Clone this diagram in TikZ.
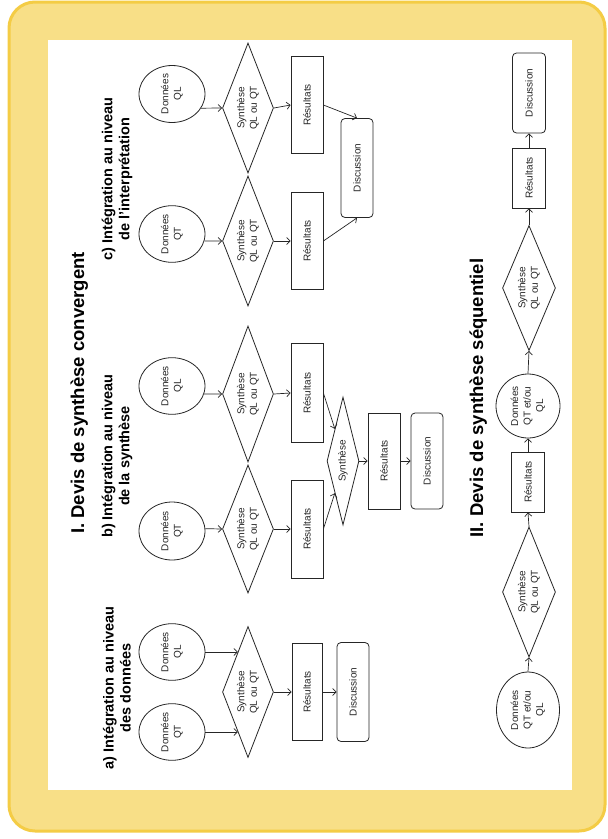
\documentclass[tikz,border=0pt]{standalone}
\usepackage{fontspec}
\setmainfont{Liberation Sans}
\usetikzlibrary{shapes.geometric,arrows.meta,calc}
\definecolor{frameY}{HTML}{F8DF87}
\definecolor{frameB}{HTML}{F4CC45}
\definecolor{ink}{HTML}{262626}
\begin{document}
\begin{tikzpicture}[x=1pt,y=-1pt,
  lbl/.style={font=\fontsize{10}{12.5}\selectfont, text=ink, align=center},
  dat/.style={lbl, ellipse, draw=ink, line width=0.8pt, rotate=90, inner sep=0pt},
  syn/.style={lbl, diamond, draw=ink, line width=0.8pt, rotate=90, inner sep=0pt, aspect=2.5},
  res/.style={lbl, rectangle, draw=ink, line width=0.8pt, rotate=90, inner sep=0pt},
  disc/.style={lbl, rectangle, rounded corners=4pt, draw=ink, line width=0.8pt, rotate=90, inner sep=0pt},
  ttl/.style={font=\fontsize{18.5}{22}\selectfont\bfseries, text=black, rotate=90, anchor=base, inner sep=0pt},
  sub/.style={font=\fontsize{14.5}{17}\selectfont\bfseries, text=black, rotate=90, align=center, inner sep=0pt},
  arr/.style={draw=ink, line width=0.7pt, -{Straight Barb[length=3.5pt,width=7pt]}}
]
\useasboundingbox (0,0) rectangle (608,839);
\fill[white] (0,0) rectangle (608,839);
\draw[fill=frameY, draw=frameB, line width=3pt, rounded corners=26pt] (9,2) rectangle (605,831);
\fill[white] (48,40) rectangle (572,790);

% titles
\node[ttl] (t1) at (84,393) {I. Devis de synthèse convergent};
\node[ttl] (t2) at (483,398) {II. Devis de synthèse séquentiel};
\node[sub] (ta) at (117,688) {a) Intégration au niveau\\des données};
\node[sub] (tb) at (117,456) {b) Intégration au niveau\\de la synthèse};
\node[sub] (tc) at (117,179) {c) Intégration au niveau\\de l'interprétation};

% a) data level
\node[dat, minimum width=56pt, minimum height=66pt] (aQT) at (172,732) {Données\\QT};
\node[dat, minimum width=56pt, minimum height=66pt] (aQL) at (172,652) {Données\\QL};
\node[syn, minimum width=131pt, minimum height=51pt] (aD) at (248,692) {Synthèse\\QL ou QT};
\node[res, minimum width=97pt, minimum height=30pt] (aR) at (307,692) {Résultats};
\node[disc, minimum width=99pt, minimum height=32pt] (aDisc) at (353,692) {Discussion};
\coordinate (aIn1) at ($(aD.north)!0.61!(aD.west)$);
\coordinate (aIn2) at ($(aD.north)!0.61!(aD.east)$);
\draw[arr] (aQT.south) -- (aQT.south -| aIn1);
\draw[arr] (aQL.south) -- (aQL.south -| aIn2);
\draw[arr] (aD.south) -- (aR.north);
\draw[arr] (aR.south) -- (aDisc.north);

% b) synthesis level
\node[dat, minimum width=56pt, minimum height=66pt] (bQL) at (172,386) {Données\\QL};
\node[dat, minimum width=58pt, minimum height=66pt] (bQT) at (172,531) {Données\\QT};
\node[syn, minimum width=136pt, minimum height=51pt] (bD1) at (248,394) {Synthèse\\QL ou QT};
\node[syn, minimum width=128pt, minimum height=51pt] (bD2) at (248,529) {Synthèse\\QL ou QT};
\node[res, minimum width=99pt, minimum height=32pt] (bR1) at (307,393) {Résultats};
\node[res, minimum width=98pt, minimum height=32pt] (bR2) at (307,529) {Résultats};
\node[syn, aspect=4, minimum width=128pt, minimum height=32pt] (bS) at (343,461) {Synthèse};
\node[res, minimum width=96pt, minimum height=32pt] (bR3) at (384,461) {Résultats};
\node[disc, minimum width=96pt, minimum height=32pt] (bDisc) at (427,461) {Discussion};
\draw[arr] (bQL.-104) -- (bD1.north);
\draw[arr] (bQT.-86) -- (bD2.north);
\draw[arr] (bD1.south) -- (bR1.north);
\draw[arr] (bD2.south) -- (bR2.north);
\draw[arr] (bR1.south) -- (bS.north east);
\draw[arr] (bR2.south) -- (bS.north west);
\draw[arr] (bS.south) -- (bR3.north);
\draw[arr] (bR3.south) -- (bDisc.north);

% c) interpretation level
\node[dat, minimum width=57pt, minimum height=66pt] (cQL) at (172,94) {Données\\QL};
\node[dat, minimum width=56pt, minimum height=66pt] (cQT) at (172,234) {Données\\QT};
\node[syn, minimum width=130pt, minimum height=51pt] (cD1) at (248,108) {Synthèse\\QL ou QT};
\node[syn, minimum width=130pt, minimum height=51pt] (cD2) at (248,241) {Synthèse\\QL ou QT};
\node[res, minimum width=97pt, minimum height=32pt] (cR1) at (307,105) {Résultats};
\node[res, minimum width=97pt, minimum height=32pt] (cR2) at (307,241) {Résultats};
\node[disc, minimum width=99pt, minimum height=32pt] (cDisc) at (357,168) {Discussion};
\draw[arr] (cQL.-116) -- (cD1.north);
\draw[arr] (cQT.-102) -- (cD2.north);
\draw[arr] (cD1.south) -- (cR1.north);
\draw[arr] (cD2.south) -- (cR2.north);
\draw[arr] (cR1.south) -- (cDisc.east);
\draw[arr] (cR2.south) -- (cDisc.west);

% II sequential
\node[dat, minimum width=76pt, minimum height=63pt] (s1) at (528,710) {Données\\QT et/ou\\QL};
\node[syn, minimum width=130pt, minimum height=53pt] (sD1) at (529,592) {Synthèse\\QL ou QT};
\node[res, minimum width=60pt, minimum height=33pt] (sR1) at (528,482) {Résultats};
\node[dat, minimum width=64pt, minimum height=64pt] (s3) at (528,406) {Données\\QT et/ou\\QL};
\node[syn, minimum width=125pt, minimum height=53pt] (sD2) at (529,288) {Synthèse\\QL ou QT};
\node[res, minimum width=60pt, minimum height=33pt] (sR2) at (529,178) {Résultats};
\node[disc, minimum width=80pt, minimum height=33pt] (sDisc) at (529,93) {Discussion};
\draw[arr] (s1.east) -- (sD1.west);
\draw[arr] (sD1.east) -- (sR1.west);
\draw[arr] (sR1.east) -- (s3.west);
\draw[arr] (s3.east) -- (sD2.west);
\draw[arr] (sD2.east) -- (sR2.west);
\draw[arr] (sR2.east) -- (sDisc.west);
\end{tikzpicture}
\end{document}
